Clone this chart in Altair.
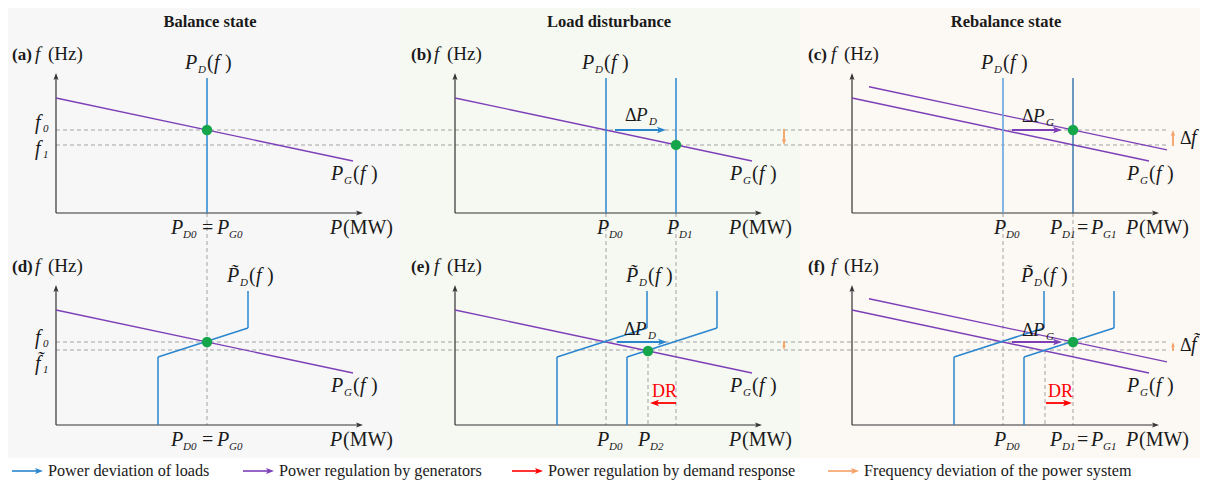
import math
import altair as alt
import pandas as pd

FONT = "Liberation Serif"
INK = "#1a1a1a"

# ---------------- colours ----------------
BLUE, BLUE_L, BLUE_D = "#2a86cf", "#6eaadf", "#1f64a8"
PURPLE, GREEN, ORANGE, RED = "#7d3fb8", "#15a64b", "#f5a064", "#ff0000"
GRAY, AXIS_C = "#a3a3a3", "#333333"

# ---------------- page layout ----------------
COL_X0 = [56, 455, 852]          # P = 0 of each column of panels
ROW_Y0 = [213, 425]              # f = 0 of each row of panels
COL_EDGES = [0, 400, 800, 1208]
COL_BG = ["#f7f7f7", "#f6f8f2", "#fcf8f4"]
BG_TOP, BG_BOTTOM = 5, 458
DASH_X = [56, 1167]

COL_TITLES = ["Balance state", "Load disturbance", "Rebalance state"]
PANEL_TAGS = [["(a)", "(b)", "(c)"], ["(d)", "(e)", "(f)"]]
LEGEND_TEXT = ["Power deviation of loads", "Power regulation by generators",
               "Power regulation by demand response",
               "Frequency deviation of the power system"]
LEGEND_COLORS = [BLUE, PURPLE, RED, ORANGE]
LEGEND_X = [12, 243, 512, 828]
LEGEND_Y = 471

# ---------------- diagram quantities (panel units) ----------------
AXIS_P, AXIS_F = 307, 140
P_D0, P_D1, P_D2 = 151, 221, 193
F_0, F_1, F_1T = 83, 68, 75
PG_P = [0, 297]                  # generator characteristic P_G(f)
PG_F = [115, 52]
PG_SHIFT_P = [17, 315]           # P-range of the shifted characteristic
PD_TOP = 135
DR_P = [102, 102, 192, 192]      # frequency-responsive load P~_D(f)
DR_F = [0, 68, 97, 134]
SHIFT = 70                       # ΔP_D = ΔP_G

SUB = 11                          # subscript font size
P_T = "P\u0303"                   # P with tilde
F_T = "f\u0303"                   # f with tilde


def pg(p, shift=0):
    slope = (PG_F[1] - PG_F[0]) / (PG_P[1] - PG_P[0])
    return PG_F[0] + slope * (p - shift - PG_P[0])


def X(c, p):
    return COL_X0[c] + p


def Y(r, f):
    return ROW_Y0[r] - f


rects, segs, dashes, heads, dots, texts = [], [], [], [], [], []


def seg(x1, y1, x2, y2, color, w=1.3):
    segs.append(dict(x=x1, y=y1, x2=x2, y2=y2, color=color, w=w))


def dash(x1, y1, x2, y2):
    dashes.append(dict(x=x1, y=y1, x2=x2, y2=y2))


def arrow(x1, y1, x2, y2, color, w=1.6, hl=8):
    L = math.hypot(x2 - x1, y2 - y1)
    ux, uy = (x2 - x1) / L, (y2 - y1) / L
    seg(x1, y1, x2 - ux * hl * 0.6, y2 - uy * hl * 0.6, color, w)
    heads.append(dict(x=x2 - ux * hl / 2, y=y2 - uy * hl / 2, color=color,
                      angle=math.degrees(math.atan2(uy, ux)) % 360, size=hl * hl))


def txt(x, y, s, kind, size=20, color=INK):
    texts.append(dict(x=x, y=y, text=s, kind=kind, size=size, color=color))


def p_of_f(x, y, sub, tl=False):
    txt(x, y, P_T if tl else "P", "it")
    txt(x + 13, y + 4, sub, "it", SUB)
    txt(x + 22, y, "(", "rm")
    txt(x + 29, y, "f", "it")
    txt(x + 40, y, ")", "rm")


def p_sub(x, y, sub):
    txt(x, y, "P", "it")
    txt(x + 12, y + 4, sub, "it", SUB)


def f_sub(x, y, sub, tl=False):
    txt(x, y, F_T if tl else "f", "it")
    txt(x + 8, y + 3, sub, "it", SUB)


def delta_p(x, y, sub):
    txt(x, y, "\u0394", "rm", 18)
    txt(x + 11, y, "P", "it", 19)
    txt(x + 24, y + 4, sub, "it", SUB)


# ---- backgrounds and column titles ----
for i in range(3):
    rects.append(dict(x=COL_EDGES[i], x2=COL_EDGES[i + 1], y=BG_TOP, y2=BG_BOTTOM, color=COL_BG[i]))
    txt(X(i, P_D0 + 3), 27, COL_TITLES[i], "bfc", 16.5)

# ---- axes and common labels ----
for r in range(2):
    for c in range(3):
        arrow(X(c, 0), Y(r, 0), X(c, AXIS_P), Y(r, 0), AXIS_C, 1.2, 7)
        arrow(X(c, 0), Y(r, 0), X(c, 0), Y(r, AXIS_F), AXIS_C, 1.2, 7)
        txt(X(c, -44), Y(r, 153), PANEL_TAGS[r][c], "bf", 17)
        txt(X(c, -21), Y(r, 153), "f", "it", 19)
        txt(X(c, -8), Y(r, 153), "(Hz)", "rm", 19)
        txt(X(c, 274), Y(r, -21), "P", "it")
        txt(X(c, 287), Y(r, -21), "(MW)", "rm")
        seg(X(c, PG_P[0]), Y(r, PG_F[0]), X(c, PG_P[1]), Y(r, PG_F[1]), PURPLE)
        p_of_f(X(c, 275), Y(r, 33), "G")

# ---- dashed guide lines ----
for f in (F_0, F_1):
    dash(DASH_X[0], Y(0, f), DASH_X[1], Y(0, f))
for f in (F_0, F_1T):
    dash(DASH_X[0], Y(1, f), DASH_X[1], Y(1, f))
for c, p in [(0, P_D0), (1, P_D0), (1, P_D1), (2, P_D0), (2, P_D1)]:
    dash(X(c, p), Y(0, 0), X(c, p), Y(1, 0))
for c in (1, 2):
    dash(X(c, P_D2), Y(1, F_1T), X(c, P_D2), Y(1, 0))

# ---- frequency tick labels (left) ----
f_sub(X(0, -21), Y(0, F_0) - 1, "0")
f_sub(X(0, -21), Y(0, F_1) + 10, "1")
f_sub(X(0, -21), Y(1, F_0) + 2, "0")
f_sub(X(0, -21), Y(1, F_1T) + 20, "1", tl=True)

# ================= (a) =================
seg(X(0, P_D0), Y(0, 0), X(0, P_D0), Y(0, PD_TOP), BLUE, 1.5)
dots.append(dict(x=X(0, P_D0), y=Y(0, pg(P_D0))))
p_of_f(X(0, P_D0 - 22), Y(0, 144), "D")
p_sub(X(0, P_D0 - 36), Y(0, -21), "D0")
txt(X(0, P_D0 - 5), Y(0, -21), "=", "rm")
p_sub(X(0, P_D0 + 10), Y(0, -21), "G0")

# ================= (b) =================
seg(X(1, P_D0), Y(0, 0), X(1, P_D0), Y(0, PD_TOP), BLUE, 1.5)
seg(X(1, P_D1), Y(0, 0), X(1, P_D1), Y(0, PD_TOP), BLUE, 1.5)
dots.append(dict(x=X(1, P_D1), y=Y(0, pg(P_D1))))
arrow(X(1, 160), Y(0, F_0), X(1, 211), Y(0, F_0), BLUE, 1.8, 9)
arrow(X(1, 329), Y(0, F_0 + 1), X(1, 329), Y(0, F_1), ORANGE, 1.8, 6)
delta_p(X(1, 170), Y(0, 92), "D")
p_of_f(X(1, P_D0 - 24), Y(0, 144), "D")
p_sub(X(1, P_D0 - 9), Y(0, -21), "D0")
p_sub(X(1, P_D1 - 9), Y(0, -21), "D1")

# ================= (c) =================
seg(X(2, PG_SHIFT_P[0]), Y(0, pg(PG_SHIFT_P[0], SHIFT)),
    X(2, PG_SHIFT_P[1]), Y(0, pg(PG_SHIFT_P[1], SHIFT)), PURPLE)
seg(X(2, P_D0), Y(0, 0), X(2, P_D0), Y(0, PD_TOP), BLUE_L, 1.7)
seg(X(2, P_D1), Y(0, 0), X(2, P_D1), Y(0, PD_TOP), BLUE_D, 1.3)
arrow(X(2, 160), Y(0, F_0), X(2, 210), Y(0, F_0), PURPLE, 1.8, 9)
dots.append(dict(x=X(2, P_D1), y=Y(0, F_0)))
arrow(X(2, 321), Y(0, F_1 - 1), X(2, 321), Y(0, F_0), ORANGE, 1.8, 6)
delta_p(X(2, 170), Y(0, 91), "G")
txt(X(2, 328), Y(0, F_1) - 1, "\u0394", "rm", 18)
txt(X(2, 339), Y(0, F_1) - 1, "f", "it", 20)
p_of_f(X(2, P_D0 - 22), Y(0, 144), "D")
p_sub(X(2, P_D0 - 9), Y(0, -21), "D0")
p_sub(X(2, P_D1 - 23), Y(0, -21), "D1")
txt(X(2, P_D1 + 4), Y(0, -21), "=", "rm")
p_sub(X(2, P_D1 + 18), Y(0, -21), "G1")


def dr_curve(c, shift=0):
    for k in range(len(DR_P) - 1):
        seg(X(c, DR_P[k] + shift), Y(1, DR_F[k]), X(c, DR_P[k + 1] + shift), Y(1, DR_F[k + 1]), BLUE, 1.5)


# ================= (d) =================
dr_curve(0)
dots.append(dict(x=X(0, P_D0), y=Y(1, F_0)))
p_of_f(X(0, DR_P[-1] - 21), Y(1, 143), "D", tl=True)
p_sub(X(0, P_D0 - 36), Y(1, -21), "D0")
txt(X(0, P_D0 - 5), Y(1, -21), "=", "rm")
p_sub(X(0, P_D0 + 10), Y(1, -21), "G0")

# ================= (e) =================
dr_curve(1)
dr_curve(1, SHIFT)
dots.append(dict(x=X(1, P_D2), y=Y(1, pg(P_D2))))
arrow(X(1, 162), Y(1, F_0), X(1, 212), Y(1, F_0), BLUE, 1.8, 9)
arrow(X(1, P_D1), Y(1, 22), X(1, 195), Y(1, 22), RED, 1.8, 9)
txt(X(1, 197), Y(1, 28), "DR", "rm", 18, RED)
arrow(X(1, 329), Y(1, F_0 + 1), X(1, 329), Y(1, F_1T), ORANGE, 1.8, 5)
delta_p(X(1, 169), Y(1, 90), "D")
p_of_f(X(1, DR_P[-1] - 21), Y(1, 143), "D", tl=True)
p_sub(X(1, P_D0 - 9), Y(1, -21), "D0")
p_sub(X(1, P_D2 - 10), Y(1, -21), "D2")

# ================= (f) =================
seg(X(2, PG_SHIFT_P[0]), Y(1, pg(PG_SHIFT_P[0], SHIFT)),
    X(2, PG_SHIFT_P[1]), Y(1, pg(PG_SHIFT_P[1], SHIFT)), PURPLE)
dr_curve(2)
dr_curve(2, SHIFT)
arrow(X(2, 160), Y(1, F_0), X(2, 210), Y(1, F_0), PURPLE, 1.8, 9)
dots.append(dict(x=X(2, P_D1), y=Y(1, F_0)))
arrow(X(2, 194), Y(1, 22), X(2, 220), Y(1, 22), RED, 1.8, 9)
txt(X(2, 196), Y(1, 28), "DR", "rm", 18, RED)
arrow(X(2, 321), Y(1, F_1T - 1), X(2, 321), Y(1, F_0), ORANGE, 1.8, 5)
delta_p(X(2, 170), Y(1, 89), "G")
txt(X(2, 328), Y(1, F_1T) + 1, "\u0394", "rm", 18)
txt(X(2, 339), Y(1, F_1T) + 1, F_T, "it", 20)
p_of_f(X(2, DR_P[-1] - 23), Y(1, 143), "D", tl=True)
p_sub(X(2, P_D0 - 9), Y(1, -21), "D0")
p_sub(X(2, P_D1 - 23), Y(1, -21), "D1")
txt(X(2, P_D1 + 4), Y(1, -21), "=", "rm")
p_sub(X(2, P_D1 + 18), Y(1, -21), "G1")

# ---- legend ----
for i in range(4):
    arrow(LEGEND_X[i], LEGEND_Y, LEGEND_X[i] + 31, LEGEND_Y, LEGEND_COLORS[i], 1.6, 8)
    txt(LEGEND_X[i] + 36, LEGEND_Y + 5, LEGEND_TEXT[i], "rm", 16.2)

# ================= chart =================
xs = alt.Scale(domain=[8, 1200], nice=False, zero=False)
ys = alt.Scale(domain=[8, 480], nice=False, zero=False, reverse=True)


def xy():
    return dict(x=alt.X("x:Q", scale=xs, axis=None), y=alt.Y("y:Q", scale=ys, axis=None))


def xy2():
    d = xy()
    d.update(x2=alt.X2("x2:Q"), y2=alt.Y2("y2:Q"))
    return d


df_t = pd.DataFrame(texts)
layers = [
    alt.Chart(pd.DataFrame(rects)).mark_rect().encode(color=alt.Color("color:N", scale=None), **xy2()),
    alt.Chart(pd.DataFrame(dashes)).mark_rule(strokeDash=[4, 3], color=GRAY, strokeWidth=1).encode(**xy2()),
    alt.Chart(pd.DataFrame(segs)).mark_rule(strokeCap="butt").encode(
        color=alt.Color("color:N", scale=None),
        strokeWidth=alt.StrokeWidth("w:Q", scale=None), **xy2()),
    alt.Chart(pd.DataFrame(heads)).mark_point(
        shape="M1,0L-1,-0.72L-0.55,0L-1,0.72Z", filled=True, opacity=1, strokeWidth=0).encode(
        color=alt.Color("color:N", scale=None), angle=alt.Angle("angle:Q", scale=None),
        size=alt.Size("size:Q", scale=None), **xy()),
    alt.Chart(pd.DataFrame(dots)).mark_circle(size=110, color=GREEN, opacity=1).encode(**xy()),
]

styles = {
    "it": dict(fontStyle="italic", align="left"),
    "rm": dict(align="left"),
    "bf": dict(fontWeight="bold", align="left"),
    "bfc": dict(fontWeight="bold", align="center"),
}
for kind, st in styles.items():
    sub = df_t[df_t["kind"] == kind]
    layers.append(
        alt.Chart(sub).mark_text(font=FONT, baseline="alphabetic", **st).encode(
            text="text:N", size=alt.Size("size:Q", scale=None),
            color=alt.Color("color:N", scale=None), **xy()))

chart = alt.layer(*layers).properties(
    width=1192, height=472, padding=0,
    autosize=alt.AutoSizeParams(type="none"),
).configure_view(stroke=None)

chart.save("out.html", embed_options={"renderer": "svg", "actions": False})
